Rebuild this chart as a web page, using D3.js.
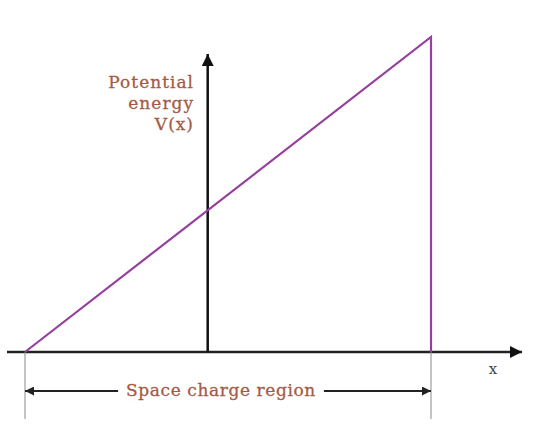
<!DOCTYPE html>
<html>
<head>
<meta charset="utf-8">
<script src="https://cdn.jsdelivr.net/npm/d3@7"></script>
<style>
  body { margin: 0; background: #fff; }
  svg { display: block; }
  text { font-family: "DejaVu Serif", "Liberation Serif", serif; }
</style>
</head>
<body>
<script>
// size variables
var width = 549, height = 428;

// data: potential energy across the space charge region
var xs = [0, 1, 1];          // position (start, end, end)
var vs = [0, 1, 0];          // potential energy V(x)
var axisPos = [0.45];        // where the vertical axis sits
var labelLines = ["Potential", "energy", "V(x)"];
var regionLabel = ["Space charge region"];
var xLabel = ["x"];

var purple = "#96409e", brown = "#a65a44", gray = "#8a8a8a";

// scales
var x = d3.scaleLinear().domain([0, 1]).range([25, 431]);
var y = d3.scaleLinear().domain([0, 1]).range([352, 37]);

var svg = d3.select('body').append('svg').attr('width', width).attr('height', height);

var defs = svg.append('defs');
function arrow(id, col, w, h) {
  defs.append('marker').attr('id', id)
    .attr('viewBox', '0 0 10 10').attr('refX', 10).attr('refY', 5)
    .attr('markerUnits', 'userSpaceOnUse')
    .attr('markerWidth', w).attr('markerHeight', h)
    .attr('orient', 'auto-start-reverse')
    .append('path').attr('d', 'M0,0 L10,5 L0,10 Z').attr('fill', col);
}
arrow('ax', '#111', 16, 12);
arrow('dim', '#222', 14, 9);

// x axis
svg.append('line')
  .attr('x1', 7).attr('x2', 522)
  .attr('y1', y(0)).attr('y2', y(0))
  .attr('stroke', '#222').attr('stroke-width', 2.5)
  .attr('marker-end', 'url(#ax)');

// y axis
svg.append('line')
  .attr('x1', x(axisPos[0])).attr('x2', x(axisPos[0]))
  .attr('y1', y(0)).attr('y2', 54)
  .attr('stroke', '#111').attr('stroke-width', 2.5)
  .attr('marker-end', 'url(#ax)');

// dimension guide lines
svg.selectAll('.guide')
  .data([0, 1]).join('line')
  .attr('class', 'guide')
  .attr('x1', d => x(d)).attr('x2', d => x(d))
  .attr('y1', y(0)).attr('y2', 419)
  .attr('stroke', gray).attr('stroke-width', 1);

// potential curve
var pts = xs.map((d, i) => [x(d), y(vs[i])]);
svg.append('path')
  .attr('d', d3.line()(pts))
  .attr('fill', 'none')
  .attr('stroke', purple).attr('stroke-width', 2.2);

// axis label
svg.append('g').selectAll('text')
  .data(labelLines).join('text')
  .attr('x', 194)
  .attr('y', (d, i) => 88 + i * 21)
  .attr('text-anchor', 'end')
  .attr('font-size', '17px')
  .attr('letter-spacing', '1px')
  .attr('fill', brown)
  .attr('stroke', brown).attr('stroke-width', 0.3)
  .text(d => d);

// x label
svg.append('text')
  .attr('x', 493).attr('y', 374)
  .attr('text-anchor', 'middle')
  .attr('font-size', '15px')
  .attr('fill', '#444')
  .text(xLabel[0]);

// space charge region dimension arrows
var dimY = 391;
var txt = svg.append('text')
  .attr('x', 221).attr('y', dimY + 5)
  .attr('text-anchor', 'middle')
  .attr('font-size', '17px')
  .attr('letter-spacing', '0.6px')
  .attr('fill', brown)
  .attr('stroke', brown).attr('stroke-width', 0.3)
  .text(regionLabel[0]);
var bb = txt.node().getBBox();
svg.append('line')
  .attr('x1', bb.x - 8).attr('x2', x(0))
  .attr('y1', dimY).attr('y2', dimY)
  .attr('stroke', '#222').attr('stroke-width', 1.8)
  .attr('marker-end', 'url(#dim)');
svg.append('line')
  .attr('x1', bb.x + bb.width + 8).attr('x2', x(1))
  .attr('y1', dimY).attr('y2', dimY)
  .attr('stroke', '#222').attr('stroke-width', 1.8)
  .attr('marker-end', 'url(#dim)');
</script>
</body>
</html>
